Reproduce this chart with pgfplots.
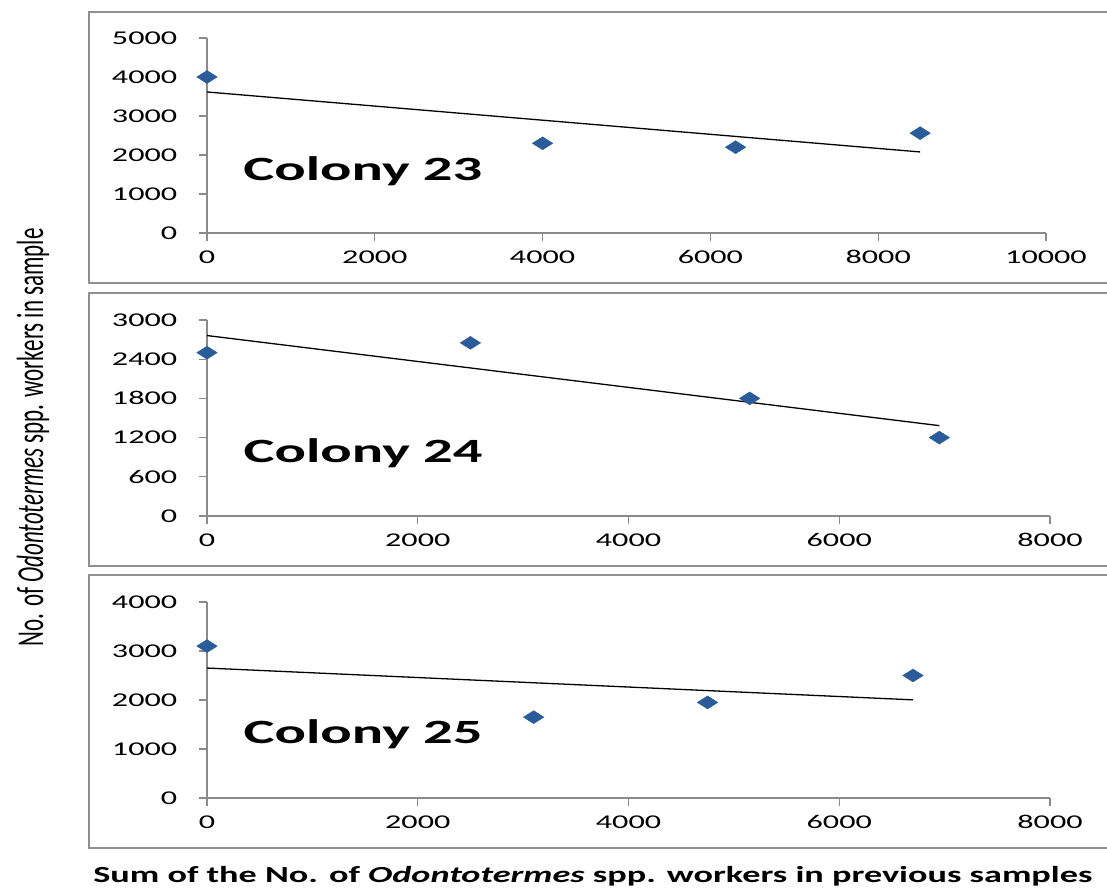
\documentclass[border=0pt]{standalone}
\usepackage{fontspec}
\setmainfont{Carlito}
\usepackage{pgfplots}
\pgfplotsset{compat=1.18}
\definecolor{mk}{HTML}{2A5C9A}
\definecolor{ax}{HTML}{8A8A8A}
\definecolor{fr}{HTML}{8F8F8F}
\pgfplotsset{
 panel/.style={
  scale only axis, anchor=south west, clip=false,
  axis lines=left, axis line style={draw=ax, line width=1.3bp, -},
  tick style={draw=ax, line width=1.1bp}, tick align=outside, major tick length=8bp,
  xmin=0, ymin=0,
  scaled ticks=false,
  /pgf/number format/1000 sep={},
  /pgf/number format/assume math mode=true,
  yticklabel style={font=\fontsize{19.5bp}{20bp}\selectfont, xshift=-16bp, xscale=1.65},
  xticklabel style={font=\fontsize{19.5bp}{20bp}\selectfont, yshift=-6bp, xscale=1.65},
 },
 pts/.style={only marks, mark=diamond*, mark size=6.5bp, mark options={fill=mk, draw=mk, xscale=2.1}},
 fit/.style={no marks, black, line width=1.3bp},
}
\tikzset{colony/.style={anchor=west, inner sep=0pt, font=\bfseries\fontsize{34bp}{36bp}\selectfont, xscale=1.72}}
\begin{document}
\begin{tikzpicture}
% frames
\draw[fr, line width=2bp] (89bp,611bp) rectangle (1120bp,882bp);
\draw[fr, line width=2bp] (89bp,328bp) rectangle (1120bp,601bp);
\draw[fr, line width=2bp] (89bp,46bp) rectangle (1120bp,319bp);

\begin{axis}[panel, at={(207bp,661bp)}, width=839bp, height=195bp,
  xmax=10000, ymax=5000, xtick={0,2000,...,10000}, ytick={0,1000,...,5000}]
\addplot[fit] coordinates {(0,3616) (8500,2078)};
\addplot[pts] coordinates {(0,4000) (4000,2300) (6300,2200) (8500,2560)};
\node[colony] at (axis cs:430,1580) {Colony 23};
\end{axis}

\begin{axis}[panel, at={(207bp,378bp)}, width=843bp, height=196bp,
  xmax=8000, ymax=3000, xtick={0,2000,...,8000}, ytick={0,600,...,3000}]
\addplot[fit] coordinates {(0,2762) (6950,1383)};
\addplot[pts] coordinates {(0,2500) (2500,2650) (5150,1800) (6950,1200)};
\node[colony] at (axis cs:345,960) {Colony 24};
\end{axis}

\begin{axis}[panel, at={(207bp,96bp)}, width=843bp, height=196bp,
  xmax=8000, ymax=4000, xtick={0,2000,...,8000}, ytick={0,1000,...,4000}]
\addplot[fit] coordinates {(0,2652) (6700,2003)};
\addplot[pts] coordinates {(0,3100) (3100,1650) (4750,1950) (6700,2500)};
\node[colony] at (axis cs:345,1300) {Colony 25};
\end{axis}

\node at (33bp,456.5bp) {\rotatebox{90}{\scalebox{1}[1.65]{\fontsize{23bp}{24bp}\selectfont No. of \textit{Odontotermes} spp. workers in sample}}};
\node[anchor=base west, inner sep=0pt, xscale=1.575, font=\bfseries\fontsize{23bp}{24bp}\selectfont] at (93bp,12bp) {Sum of the No. of \textit{Odontotermes} spp. workers in previous samples};

\pgfresetboundingbox
\path[use as bounding box] (0bp,0bp) rectangle (1107bp,894bp);
\end{tikzpicture}
\end{document}
